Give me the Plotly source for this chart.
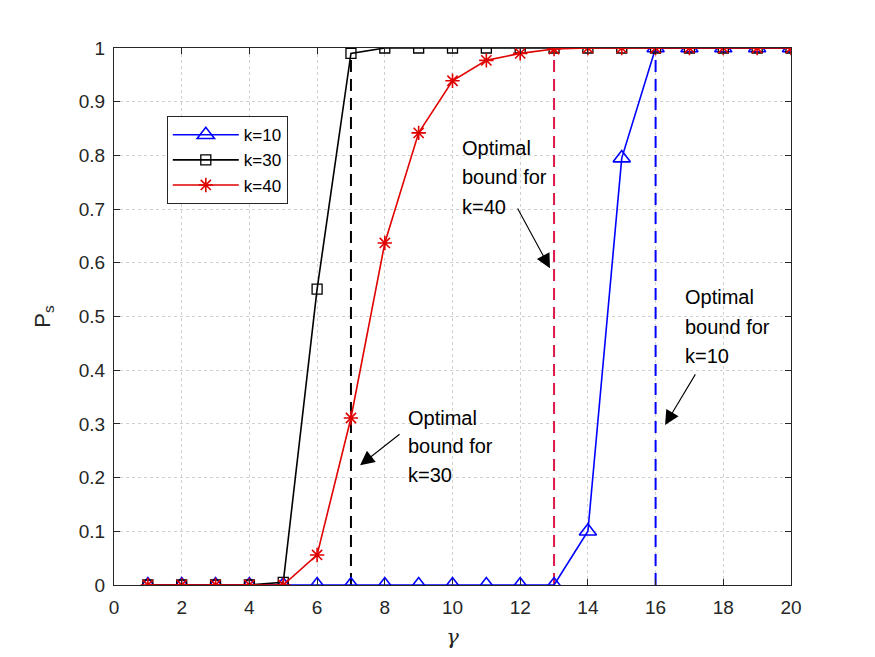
import plotly.graph_objects as go

gamma = list(range(1, 21))
ps_k10 = [0, 0, 0, 0, 0, 0, 0, 0, 0, 0, 0, 0, 0, 0.10, 0.795, 1, 1, 1, 1, 1]
ps_k30 = [0, 0, 0, 0, 0.005, 0.551, 0.99, 1, 1, 1, 1, 1, 1, 1, 1, 1, 1, 1, 1, 1]
ps_k40 = [0, 0, 0, 0, 0, 0.056, 0.311, 0.637, 0.842, 0.939, 0.977, 0.99, 0.998, 1, 1, 1, 1, 1, 1, 1]

bound_x = {"k30": 7, "k40": 13, "k10": 16}
bound_top = {"k30": 0.99, "k40": 1.0, "k10": 1.0}

label_lines = ["Optimal", "bound for"]
label_k = {"k30": "k=30", "k40": "k=40", "k10": "k=10"}

FONT = "Liberation Sans, Arial, Helvetica, sans-serif"
AX = "#262626"

fig = go.Figure()

for key, col in [("k30", "black"), ("k40", "#DC1A4A"), ("k10", "#0000FF")]:
    fig.add_trace(go.Scatter(x=[bound_x[key], bound_x[key]], y=[0, bound_top[key]],
                             mode="lines", line=dict(color=col, width=2, dash="12px,7px"),
                             showlegend=False, hoverinfo="skip"))

fig.add_trace(go.Scatter(x=gamma, y=ps_k10, mode="lines+markers", name="k=10",
                         line=dict(color="#0000FF", width=1.6),
                         marker=dict(symbol="triangle-up-open", size=15,
                                     line=dict(color="#0000FF", width=1.6))))
fig.add_trace(go.Scatter(x=gamma, y=ps_k30, mode="lines+markers", name="k=30",
                         line=dict(color="black", width=1.6),
                         marker=dict(symbol="square-open", size=10,
                                     line=dict(color="black", width=1.3))))
fig.add_trace(go.Scatter(x=gamma, y=ps_k40, mode="lines+markers", name="k=40",
                         line=dict(color="#E00000", width=1.6),
                         marker=dict(symbol="asterisk-open", size=12,
                                     line=dict(color="#E00000", width=1.6))))

# (key, text-left x, first-line y, line step, arrow head x, y, arrow tail x, y)
ann_spec = [
    ("k30", 8.63, 0.311, 0.053, 7.27, 0.223, 8.48, 0.283),
    ("k40", 10.22, 0.814, 0.055, 12.88, 0.590, 11.9, 0.704),
    ("k10", 16.81, 0.536, 0.055, 16.28, 0.298, 17.2, 0.395),
]
annotations = []
for key, tx, ty, step, hx, hy, sx, sy in ann_spec:
    for i, line in enumerate(label_lines + [label_k[key]]):
        annotations.append(dict(x=tx, y=ty - i * step, xref="x", yref="y", text=line,
                                showarrow=False, xanchor="left", yanchor="middle",
                                font=dict(family=FONT, size=20, color="black")))
    annotations.append(dict(x=hx, y=hy, ax=sx, ay=sy, xref="x", yref="y",
                            axref="x", ayref="y", text="", showarrow=True,
                            arrowhead=2, arrowsize=2.6, arrowwidth=1.1, arrowcolor="black"))

fig.update_layout(
    width=875, height=657,
    margin=dict(l=114, r=84, t=48, b=72),
    paper_bgcolor="white", plot_bgcolor="white",
    font=dict(family=FONT, size=19, color=AX),
    showlegend=True,
    legend=dict(x=0.078, y=0.873, xanchor="left", yanchor="top",
                bgcolor="white", bordercolor=AX, borderwidth=1,
                font=dict(family=FONT, size=17, color="black"),
                tracegroupgap=0, itemwidth=66),
    annotations=annotations,
    xaxis=dict(range=[0, 20], tickvals=list(range(0, 21, 2)), ticks="inside", ticklen=6,
               tickcolor=AX, showline=True, linecolor=AX, linewidth=1, mirror="ticks",
               showgrid=True, gridcolor="#D0D0D0", griddash="dot", gridwidth=1,
               tickfont=dict(size=19, family=FONT, color=AX), ticklabelstandoff=5,
               zeroline=False,
               title=dict(text="<i>γ</i>", font=dict(size=21, family="DejaVu Serif, serif", color=AX), standoff=12)),
    yaxis=dict(range=[0, 1], tickvals=[i / 10 for i in range(11)],
               ticktext=["0", "0.1", "0.2", "0.3", "0.4", "0.5", "0.6", "0.7", "0.8", "0.9", "1"],
               ticks="inside", ticklen=6, tickcolor=AX, showline=True, linecolor=AX,
               linewidth=1, mirror="ticks", showgrid=True, gridcolor="#D0D0D0",
               griddash="dot", gridwidth=1, zeroline=False,
               tickfont=dict(size=19, family=FONT, color=AX), ticklabelstandoff=4,
               title=dict(text="P<sub>s</sub>", font=dict(size=22, family=FONT, color=AX), standoff=22)),
)

fig.write_html("out.html")
